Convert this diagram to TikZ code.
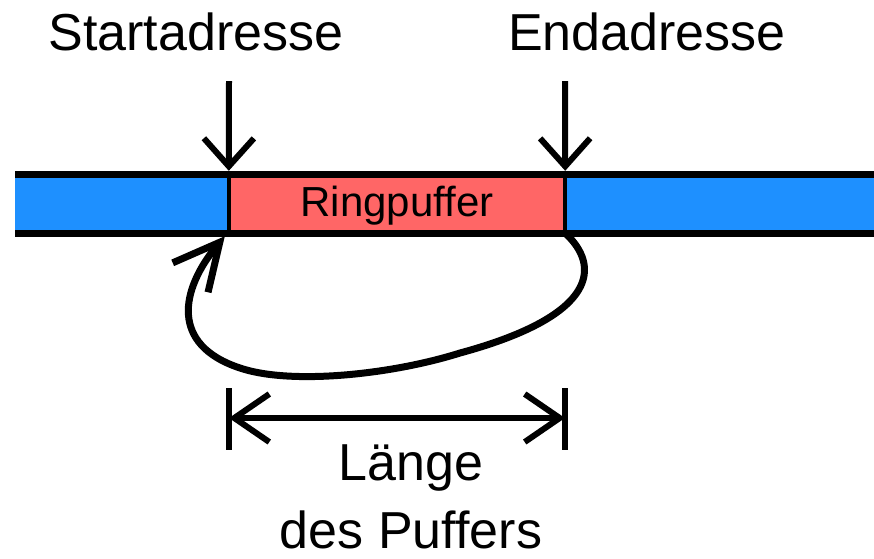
\documentclass[tikz,border=0pt]{standalone}
\usepackage{fontspec}
\setmainfont{Liberation Sans}
\usetikzlibrary{arrows.meta}
\definecolor{memblue}{RGB}{30,144,255}
\definecolor{bufred}{RGB}{255,102,102}
\begin{document}
\begin{tikzpicture}[x=1pt,y=-1pt,
  caption/.style={font=\fontsize{52}{60}\selectfont, anchor=base, inner sep=0pt},
  pointer/.style={line width=6pt, -{Straight Barb[length=28pt,width=50pt]}},
  dimline/.style={line width=6pt, {Straight Barb[length=35pt,width=48pt]}-{Straight Barb[length=35pt,width=48pt]}},
  wrapline/.style={line width=7pt, -{Straight Barb[length=46pt,width=46pt]}},
  edge/.style={line width=7pt},
  divider/.style={line width=4pt},
  bufbox/.style={fill=bufred, minimum width=336pt, minimum height=59pt, inner sep=0pt,
    font=\fontsize{42}{50}\selectfont, text height=30pt, text depth=4pt}]
\useasboundingbox (0,0) rectangle (874,558);

% memory strip
\fill[memblue] (15,174) rectangle (874,233);
\node[bufbox] (ring) at (397,203.5) {Ringpuffer};
\draw[divider] (ring.north west) -- (ring.south west);
\draw[divider] (ring.north east) -- (ring.south east);
\draw[edge] (15,174) -- (874,174);
\draw[edge] (15,233) -- (874,233);

% address labels and pointers
\node[caption] (start) at (196,50) {Startadresse};
\node[caption] (end) at (647,50) {Endadresse};
\coordinate (sa) at (229,81);
\coordinate (ea) at (565,81);
\draw[pointer, shorten >=3pt] (sa) -- (ring.north west);
\draw[pointer, shorten >=3pt] (ea) -- (ring.north east);

% wrap-around from end back to start
\draw[wrapline] (ring.south east)
  .. controls (600,265) and (600,315) .. (460,353)
  .. controls (390,375) and (290,385) .. (240,368)
  .. controls (170,345) and (180,290) .. ([shift={(-4,3)}]ring.south west);

% buffer length
\coordinate (dl) at (229,418);
\coordinate (dr) at (565,418);
\draw[line width=6pt] (229,388) -- (229,450);
\draw[line width=6pt] (565,388) -- (565,450);
\draw[dimline] (dl) -- (dr);
\node[caption] (len) at (411,480) {Länge};
\node[caption] (des) at (411,548) {des Puffers};
\end{tikzpicture}
\end{document}
